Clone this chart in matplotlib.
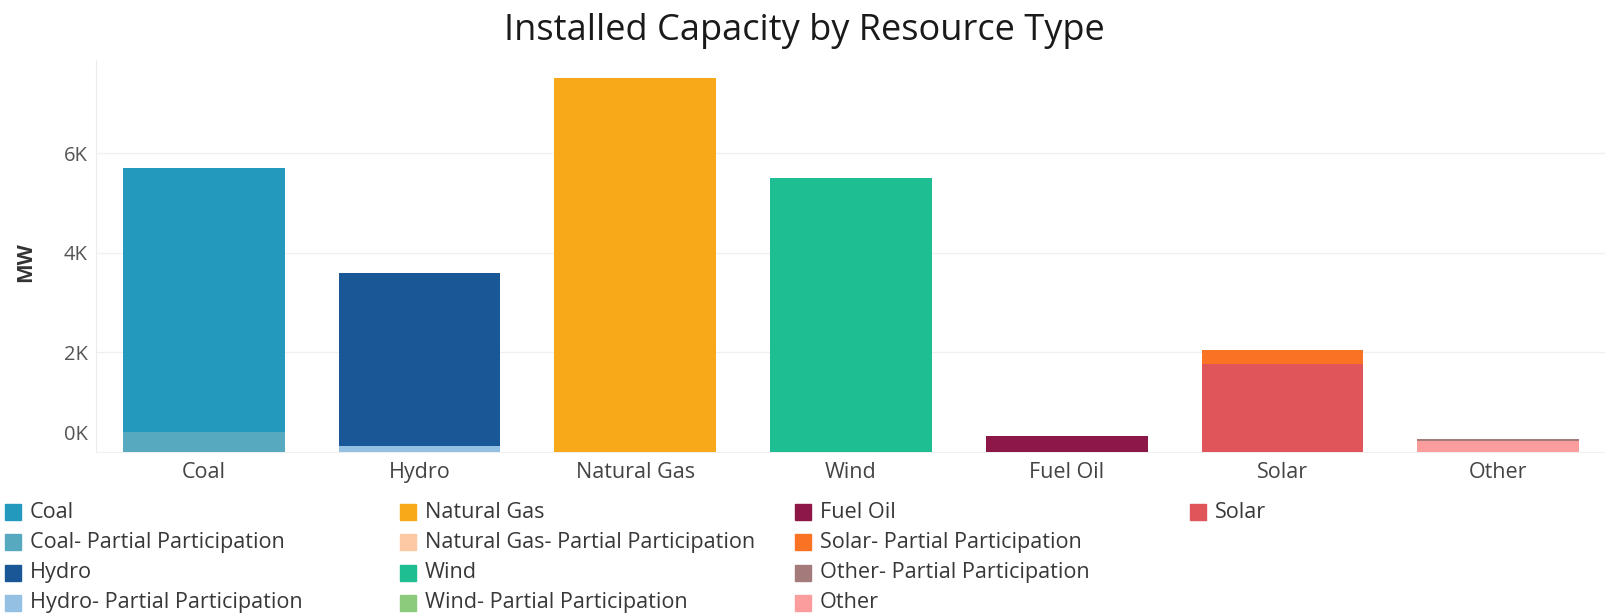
import matplotlib.pyplot as plt
from matplotlib.patches import Rectangle
from matplotlib.ticker import FuncFormatter

plt.rcParams['font.family'] = ['Open Sans', 'DejaVu Sans']

# bar data (MW)
categories = ["Coal", "Hydro", "Natural Gas", "Wind", "Fuel Oil", "Solar", "Other"]
full_mw = [5300, 3470, 7510, 5500, 320, 1770, 220]
partial_mw = [410, 120, 0, 0, 0, 280, 40]

# legend, in the order the chart lists it
legend_labels = [
    "Coal", "Coal- Partial Participation", "Hydro", "Hydro- Partial Participation",
    "Natural Gas", "Natural Gas- Partial Participation", "Wind", "Wind- Partial Participation",
    "Fuel Oil", "Solar- Partial Participation", "Other- Partial Participation", "Other",
    "Solar",
]
legend_colors = [
    "#2399bd", "#57a9bf", "#1a5796", "#94c0e3",
    "#f8a91a", "#fdc9a5", "#1fbe92", "#8bcb7b",
    "#8d1746", "#fa7325", "#a57a7b", "#fb9d9c",
    "#e05559",
]
color_of = dict(zip(legend_labels, legend_colors))


def stack_rank(label):
    # later legend entries sit lower in the stack
    return -legend_labels.index(label) if label in legend_labels else 0


W, H = 1606, 616
fig = plt.figure(figsize=(W / 100, H / 100), dpi=100)
ax = fig.add_axes([96 / W, (H - 452) / H, (W - 96) / W, (452 - 60) / H])

for i, cat in enumerate(categories):
    segs = [(cat, full_mw[i]), (cat + "- Partial Participation", partial_mw[i])]
    segs = [s for s in segs if s[1] > 0]
    segs.sort(key=lambda s: stack_rank(s[0]))
    bottom = 0
    for label, val in segs:
        ax.bar(i, val, bottom=bottom, width=0.75, color=color_of[label], linewidth=0, zorder=3)
        bottom += val

ax.set_xlim(-0.5, len(categories) - 0.5)
ax.set_ylim(0, 7870)
ax.set_xticks(range(len(categories)))
ax.set_xticklabels(categories, fontsize=15.5, color="#444444")
ax.set_yticks([2000, 4000, 6000])
ax.yaxis.set_major_formatter(FuncFormatter(lambda v, p: f"{v / 1000:.0f}K"))
ax.tick_params(axis="y", length=0, pad=6, labelsize=14.5, labelcolor="#555555")
ax.tick_params(axis="x", length=0, pad=7)
ax.annotate("0K", xy=(0, 0), xycoords=("axes fraction", "data"), xytext=(-6, 12),
            textcoords="offset points", ha="right", va="center", fontsize=14.5, color="#555555")
ax.grid(axis="y", color="#f0f0f0", linewidth=1, zorder=0)
for s in ["top", "right"]:
    ax.spines[s].set_visible(False)
ax.spines["left"].set_color("#ececec")
ax.spines["bottom"].set_color("#f0f0f0")

fig.text(25.5 / W, 1 - 262 / H, "MW", rotation=90, ha="center", va="center",
         fontsize=15, fontweight="bold", color="#333333")
fig.text(804 / W, 1 - 31 / H, "Installed Capacity by Resource Type", ha="center", va="center",
         fontsize=26, color="#1a1a1a")

# legend grid: 4 rows, filled column by column
for k, label in enumerate(legend_labels):
    col, row = k // 4, k % 4
    x = 5 + 395 * col
    y = 512 + 30.3 * row
    fig.patches.append(Rectangle((x / W, 1 - (y + 8) / H), 16 / W, 16 / H,
                                 transform=fig.transFigure, color=color_of[label]))
    fig.text((x + 25) / W, 1 - y / H, label, ha="left", va="center", fontsize=15.6, color="#383838")

fig.savefig("out.png", dpi=100)
